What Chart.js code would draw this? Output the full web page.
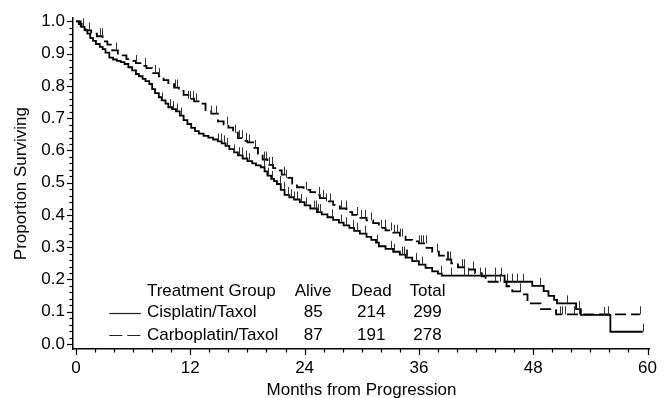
<!DOCTYPE html>
<html><head><meta charset="utf-8">
<script src="https://cdn.jsdelivr.net/npm/chart.js@4/dist/chart.umd.min.js"></script>
<style>html,body{margin:0;padding:0;background:#fff;}#wrap{width:666px;height:398px;position:relative;}</style>
</head><body><div id="wrap"><canvas id="c" width="666" height="398"></canvas></div>
<script>
const groupNames = ['Cisplatin/Taxol', 'Carboplatin/Taxol'];
const tableHeaders = ['Treatment Group', 'Alive', 'Dead', 'Total'];
const aliveCounts = [85, 87];
const deadCounts = [214, 191];
const totalCounts = [299, 278];
const xTickValues = [0, 12, 24, 36, 48, 60];
const yTickValues = [0, 0.1, 0.2, 0.3, 0.4, 0.5, 0.6, 0.7, 0.8, 0.9, 1.0];

const cisTime = [0,0.3,0.6,0.9,1.2,1.5,1.8,2.1,2.5,2.8,3.1,3.5,3.9,4.3,4.7,5.1,5.5,5.9,6.3,6.6,7.0,7.3,7.7,8.0,8.3,8.7,9.0,9.4,9.7,10.1,10.5,10.9,11.3,11.7,12.1,12.5,12.9,13.4,13.9,14.4,14.9,15.3,15.7,16.1,16.6,17.0,17.5,18.0,18.5,18.9,19.4,19.8,20.1,20.5,20.8,21.1,21.5,21.9,22.4,22.9,23.5,24.0,24.6,25.3,25.8,26.4,27.0,27.6,28.1,28.7,29.2,29.8,30.5,31.0,31.5,31.8,32.5,33.3,34.0,34.6,35.3,36.0,36.7,37.4,38.0,38.4,45.0,47.9,49.1,49.6,50.2,50.5,52.5,53.0,56.1,59.5];
const cisSurv = [1.0,0.992,0.983,0.973,0.962,0.948,0.940,0.930,0.921,0.914,0.903,0.888,0.882,0.878,0.874,0.868,0.858,0.848,0.837,0.830,0.822,0.815,0.806,0.790,0.778,0.765,0.755,0.745,0.734,0.728,0.721,0.708,0.694,0.682,0.670,0.660,0.652,0.645,0.640,0.634,0.628,0.622,0.614,0.604,0.594,0.585,0.575,0.567,0.560,0.554,0.548,0.535,0.522,0.512,0.505,0.496,0.478,0.462,0.455,0.448,0.440,0.430,0.420,0.409,0.402,0.393,0.385,0.376,0.368,0.360,0.351,0.342,0.332,0.323,0.314,0.303,0.295,0.286,0.277,0.268,0.257,0.246,0.236,0.225,0.218,0.212,0.193,0.180,0.164,0.149,0.137,0.126,0.108,0.090,0.038,0.038];
const cisCensor = [9.0,9.9,10.2,10.6,11.0,14.9,15.2,15.5,15.9,16.6,17.1,17.4,17.8,18.2,19.7,20.2,20.6,21.4,21.8,22.3,22.6,22.9,23.2,23.6,24.1,25.0,25.2,25.4,25.6,26.9,27.8,28.3,29.1,29.5,30.3,31.6,33.1,33.4,34.2,34.4,34.6,34.8,35.7,36.3,38.3,39.4,40.7,41.2,42.4,42.9,44.0,44.6,45.3,45.8,46.3,46.9,48.7,51.5,52.8,55.4,59.5];

const carboTime = [0,0.5,1.0,1.6,2.2,2.8,3.3,3.8,4.4,4.9,5.3,5.8,6.3,6.9,7.4,8.0,8.7,9.2,9.7,10.3,10.8,11.3,11.8,12.4,12.9,13.6,14.2,14.9,15.5,16.0,16.5,17.0,17.6,18.0,18.6,19.1,19.6,20.1,20.7,21.1,21.6,22.1,22.7,23.2,23.9,24.6,25.1,25.6,26.3,27.0,27.7,28.4,29.0,29.7,30.5,31.2,31.8,32.5,33.3,34.0,34.6,35.3,36.0,36.8,37.4,38.1,38.8,39.4,40.1,41.1,41.9,42.6,43.0,45.2,45.8,46.8,47.4,48.8,50.4,59.2];
const carboSurv = [1.0,0.985,0.972,0.962,0.954,0.938,0.928,0.910,0.900,0.895,0.883,0.878,0.871,0.862,0.855,0.840,0.830,0.818,0.809,0.795,0.785,0.772,0.760,0.752,0.745,0.725,0.714,0.690,0.680,0.671,0.655,0.638,0.630,0.625,0.608,0.590,0.572,0.555,0.545,0.538,0.525,0.515,0.497,0.486,0.478,0.471,0.462,0.452,0.442,0.431,0.420,0.409,0.400,0.391,0.383,0.375,0.360,0.352,0.345,0.333,0.323,0.318,0.312,0.298,0.286,0.274,0.262,0.250,0.238,0.231,0.220,0.210,0.193,0.179,0.163,0.154,0.126,0.108,0.092,0.092];
const carboCensor = [0.7,1.4,2.5,2.7,4.2,6.3,7.3,8.3,8.7,10.4,10.6,11.8,12.0,12.3,12.6,14.2,14.7,15.9,16.7,17.1,17.4,17.8,18.2,18.8,19.7,20.0,20.3,20.6,21.8,22.1,24.1,25.5,25.9,26.3,26.7,27.8,28.3,29.5,29.9,30.3,31.0,32.0,32.4,33.1,33.4,33.7,34.0,34.2,36.0,36.2,36.4,36.7,37.9,38.9,39.1,39.3,40.5,40.7,41.7,44.0,44.5,46.6,50.8,51.0,51.3,52.3,52.8,55.9,59.2];

const FONT = '"Liberation Sans", Arial, Helvetica, sans-serif';
const DASH = [11, 5];

function toPoints(t, s) { return t.map((v, i) => ({x: v, y: s[i]})); }
function survAt(t, s, at) { let v = s[0]; for (let i = 0; i < t.length; i++) { if (t[i] <= at) v = s[i]; else break; } return v; }

const series = [
  {name: groupNames[0], time: cisTime, surv: cisSurv, censor: cisCensor, dash: []},
  {name: groupNames[1], time: carboTime, surv: carboSurv, censor: carboCensor, dash: DASH}
];

const kmExtras = {
  id: 'kmExtras',
  afterDatasetsDraw(chart) {
    const {ctx, chartArea, scales: {x, y}} = chart;
    ctx.save();
    // censor marks
    ctx.strokeStyle = '#333'; ctx.lineWidth = 1; ctx.setLineDash([]);
    series.forEach(sr => {
      sr.censor.forEach(t => {
        const s = survAt(sr.time, sr.surv, t);
        const px = Math.round(x.getPixelForValue(t)) + 0.5;
        const py = y.getPixelForValue(s);
        ctx.beginPath(); ctx.moveTo(px, py); ctx.lineTo(px, py - 8); ctx.stroke();
      });
    });
    // axis ticks (major + minor)
    ctx.strokeStyle = '#000'; ctx.lineWidth = 1.2;
    for (let m = 0; m <= 60; m += 2) {
      const px = Math.round(x.getPixelForValue(m)) + 0.5;
      const len = (m % 12 === 0) ? 6 : 3.5;
      ctx.beginPath(); ctx.moveTo(px, chartArea.bottom); ctx.lineTo(px, chartArea.bottom + len); ctx.stroke();
    }
    for (let k = 0; k <= 50; k++) {
      const v = k / 50;
      const py = Math.round(y.getPixelForValue(v)) + 0.5;
      const len = (k % 5 === 0) ? 6 : 3.5;
      ctx.beginPath(); ctx.moveTo(chartArea.left, py); ctx.lineTo(chartArea.left - len, py); ctx.stroke();
    }
    // table legend
    ctx.fillStyle = '#000';
    ctx.font = '17px ' + FONT;
    ctx.textBaseline = 'middle';
    const rowY = [0.162, 0.097, 0.028].map(v => y.getPixelForValue(v));
    const nameX = x.getPixelForValue(7.45);
    const colX = [24.9, 31.0, 36.9].map(v => x.getPixelForValue(v));
    ctx.textAlign = 'left';
    ctx.fillText(tableHeaders[0], nameX, rowY[0]);
    ctx.textAlign = 'center';
    for (let c = 0; c < 3; c++) ctx.fillText(tableHeaders[c + 1], colX[c], rowY[0]);
    const cols = [aliveCounts, deadCounts, totalCounts];
    series.forEach((sr, r) => {
      const yy = rowY[r + 1];
      ctx.textAlign = 'left';
      ctx.fillText(sr.name, nameX, yy);
      ctx.textAlign = 'center';
      for (let c = 0; c < 3; c++) ctx.fillText(String(cols[c][r]), colX[c], yy);
      ctx.strokeStyle = '#222'; ctx.lineWidth = 1.2;
      ctx.setLineDash(r === 0 ? [] : [13, 5]);
      const x0 = x.getPixelForValue(3.5), x1 = x.getPixelForValue(6.8);
      ctx.beginPath(); ctx.moveTo(x0, Math.round(yy) + 0.5); ctx.lineTo(x1, Math.round(yy) + 0.5); ctx.stroke();
      ctx.setLineDash([]);
    });
    ctx.restore();
  }
};

new Chart(document.getElementById('c'), {
  type: 'line',
  data: {
    datasets: series.map(sr => ({
      label: sr.name,
      data: toPoints(sr.time, sr.surv),
      borderColor: '#000',
      borderWidth: 1.8,
      borderDash: sr.dash,
      stepped: 'before',
      pointRadius: 0,
      fill: false,
      tension: 0
    }))
  },
  options: {
    responsive: false,
    animation: false,
    devicePixelRatio: 1,
    layout: {padding: {top: 18, right: 6, left: 0, bottom: 0}},
    plugins: {legend: {display: false}, tooltip: {enabled: false}},
    scales: {
      x: {
        type: 'linear', min: -0.31, max: 60.26,
        afterBuildTicks: a => { a.ticks = xTickValues.map(v => ({value: v})); },
        afterFit: s => { s.height = 49; },
        grid: {display: false, drawTicks: false},
        border: {display: true, color: '#000', width: 1.5},
        ticks: {color: '#000', font: {family: FONT, size: 17}, padding: 9, maxRotation: 0, autoSkip: false},
        title: {display: true, text: 'Months from Progression', color: '#000', font: {family: FONT, size: 17, lineHeight: 1}, padding: {top: 0, bottom: -1}}
      },
      y: {
        type: 'linear', min: -0.0155, max: 1.01,
        afterBuildTicks: a => { a.ticks = yTickValues.map(v => ({value: v})); },
        afterFit: s => { s.width = 73; },
        grid: {display: false, drawTicks: false},
        border: {display: true, color: '#000', width: 1.5},
        ticks: {color: '#000', font: {family: FONT, size: 17}, padding: 8, callback: v => Number(v).toFixed(1)},
        title: {display: true, text: 'Proportion Surviving', color: '#000', font: {family: FONT, size: 17, lineHeight: 1}, padding: {top: 13, bottom: 0}}
      }
    }
  },
  plugins: [kmExtras]
});
</script>
</body></html>
